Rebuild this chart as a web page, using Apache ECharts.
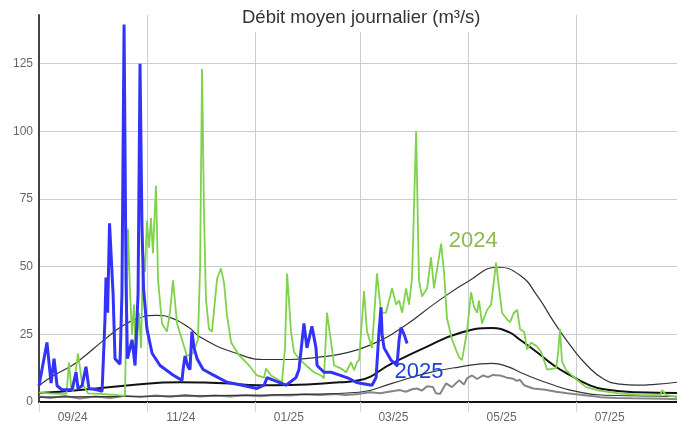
<!DOCTYPE html>
<html>
<head>
<meta charset="utf-8">
<script src="https://cdn.jsdelivr.net/npm/echarts@6/dist/echarts.min.js"></script>
<style>
  html, body { margin: 0; padding: 0; background: #fff; }
  #main { width: 677px; height: 424px; }
</style>
</head>
<body>
<div id="main"></div>
<script>
// jours depuis le 01/09/2024 -> débit (m3/s)
var startDate = new Date(2024, 8, 1);
var DAY = 86400000;

// 2025 (bleu)
var flow2025 = [
  [0, 6], [4.5, 22], [6.8, 7], [8.5, 16], [10.2, 6], [13, 4.5], [18.6, 4.5], [20.9, 11], [22, 5],
  [24.3, 6], [26.5, 13], [28.2, 5], [32.7, 4.5], [35.6, 4], [37.2, 30], [37.8, 46], [38.7, 33],
  [39.8, 66], [41.8, 40], [42.9, 16], [45.7, 14], [46.8, 40], [48, 139.5], [49.1, 45], [49.9, 16],
  [52.5, 23], [54.2, 13.5], [55.9, 40], [57, 125], [58.1, 65], [59, 42], [60.9, 27], [63.8, 18],
  [68.3, 13.5], [75.6, 10], [80.7, 8], [81.3, 12], [82.4, 17], [84.1, 13], [85.2, 12], [86.3, 26],
  [87.5, 20], [89.2, 16], [92.6, 12], [98.2, 10], [106.1, 7.3], [114.6, 6.2], [123, 5], [127, 6.2],
  [128.7, 9], [132.6, 8], [139.4, 6.2], [145, 9], [146.7, 12], [149.5, 29], [151.2, 20], [154, 28],
  [156.3, 20], [156.9, 13.5], [160.8, 11], [164.8, 11], [169.3, 10], [174.9, 8.7], [178.9, 7.3],
  [180.6, 7], [187.9, 6.2], [190.2, 9], [191.9, 26.5], [193, 35], [193.6, 25], [194.7, 20],
  [198.6, 15.5], [202, 13.5], [203.2, 23], [204.3, 27.5], [206, 25], [207.7, 21.6]
];

// 2024 (vert)
var flow2024 = [
  [0, 3.5], [6.2, 3.2], [11.9, 3], [15.5, 3], [16.9, 14.7], [18.2, 5], [19.2, 4], [22, 18], [24.3, 7],
  [27.7, 3.2], [34.4, 3], [42.9, 2.6], [48.5, 2.3], [49.1, 3], [50.2, 64], [51.4, 40], [52.5, 25],
  [53.6, 36], [54.7, 16], [56.4, 33], [57.6, 20], [58.7, 55], [59.8, 48], [60.9, 67], [62.1, 57],
  [63.2, 68], [64.3, 55], [66, 80], [67.2, 45], [69.4, 29], [72.2, 26], [73.9, 33], [75.6, 45],
  [77.9, 29], [80.7, 23], [83.5, 17], [86.9, 18], [89.7, 23], [90.9, 50], [92, 123], [93.1, 70],
  [94.2, 38], [95.9, 27], [97.6, 26], [100.5, 45.6], [102.7, 49.4], [104.4, 44], [106.1, 32],
  [108.4, 22], [112.9, 17.3], [118.5, 13.5], [123, 9.8], [127, 9], [128.1, 12.4], [130.9, 9.8],
  [135.4, 8], [137.1, 7.3], [138.8, 20], [140, 47.5], [142.2, 26], [143.9, 18.5], [146.7, 16],
  [150.7, 13.5], [155.2, 11], [159.1, 9.8], [160.8, 8.7], [162.5, 33], [164.8, 22], [166.5, 13.5],
  [170.4, 12.4], [173.3, 11], [176.1, 14.7], [177.8, 11.8], [179.5, 14.7], [180.6, 15.5], [183.4, 41],
  [185.1, 26], [187.9, 20], [190.7, 47.5], [193, 33], [195.8, 33], [199.2, 42], [201.5, 36],
  [203.2, 37.5], [204.9, 33], [207.1, 42], [208.8, 36], [210.5, 46], [212.8, 100], [214.4, 45],
  [216.1, 39], [219, 42], [221.2, 53.5], [222.9, 42], [226.9, 58.5], [228.6, 47.5], [230.2, 31],
  [233.1, 23], [237, 16.5], [238.7, 15.5], [241.5, 26], [243.8, 40.5], [245.5, 35], [247.2, 33],
  [248.3, 37.5], [250, 29], [252.8, 34], [255.1, 36], [257.9, 51.5], [259.6, 42], [261.3, 33],
  [264.1, 30.5], [265.8, 29.5], [268, 33], [269.8, 34], [271.4, 27], [273.7, 26], [275.4, 19.5],
  [277.7, 22], [281, 20.5], [283.3, 18.5], [286.7, 12], [291.8, 12.5], [292.9, 18], [294, 27],
  [295.1, 15], [297.4, 11.8], [303, 8.5], [308.7, 5.5], [316, 4.2], [327.3, 3.2], [339.2, 2.6],
  [345.9, 2.5], [350.5, 2.5], [351.6, 4.4], [353.9, 2.5], [360, 1.8]
];

// courbes statistiques
var curveHigh = [
  [0, 6], [6.2, 9], [18.6, 13.5], [23, 15.5], [37.8, 23.5], [46.8, 28], [56.4, 31], [66, 32],
  [75, 31], [84.6, 27.5], [90.9, 24], [109.5, 18.4], [128.7, 15.7], [141.6, 15.7], [156.9, 16.5],
  [169.9, 17.7], [186.8, 21], [206, 28], [224.6, 37], [243.2, 45], [258.5, 49.8], [271.4, 46.8],
  [281, 39.4], [290.6, 29.5], [299.7, 21], [309.3, 13.5], [318.8, 8.4], [327.9, 6.6], [337.5, 6.2],
  [347.6, 6.5], [360, 7.3]
];
var curveMid = [
  [0, 3.3], [23, 4.4], [51, 6.2], [79.6, 7.3], [90.9, 7.2], [107.8, 6.8], [123, 6.2], [141.6, 6.3],
  [169.9, 7.3], [180.6, 8], [199.2, 14.3], [218.4, 20.3], [237, 25.4], [255.6, 27.3], [265.2, 25.8],
  [271.4, 23], [281, 18.4], [290.6, 13.5], [299.7, 9.9], [309.3, 6.6], [318.8, 4.7], [337.5, 3.6],
  [360, 3.3]
];
var curveLow = [
  [0, 1.8], [34.4, 2], [90.9, 2.3], [147.3, 2.8], [180.6, 3.6], [199.2, 6.9], [218.4, 10.6],
  [237, 12.9], [255.6, 14.3], [265.2, 12.9], [271.4, 11], [281, 8.4], [290.6, 6.2], [299.7, 4.4],
  [318.8, 2.5], [360, 2.1]
];
var curveMin = [
  [0, 2], [6.2, 1.5], [14.7, 2.2], [23, 1.3], [31.6, 2], [40, 1.5], [48.5, 2.3], [57, 1.8],
  [65.5, 2.4], [74, 1.9], [82.4, 2.6], [91, 2], [99.3, 2.4], [107.8, 2], [116.3, 2.5], [124.7, 2.1],
  [133.2, 2.6], [141.6, 2.4], [150, 2.9], [158.6, 2.6], [167, 3], [172.7, 2.6], [180.6, 3],
  [186.8, 3.6], [192.4, 3.2], [199.2, 4], [203.7, 4.4], [207, 3.8], [210.5, 4.7], [213.3, 5],
  [216, 4.2], [219, 5.8], [222.3, 5.5], [224, 3.2], [226.3, 3], [229.7, 6.9], [233, 5.5], [237, 8],
  [239.8, 6.5], [241.5, 8.7], [244.4, 9.8], [247.2, 8.5], [250.6, 9.8], [253.4, 9.2], [256.2, 10],
  [260.2, 9.8], [264, 9], [267, 8.7], [269.7, 7.8], [271.4, 8.2], [273.7, 6.2], [278.8, 5],
  [285.6, 4.5], [291.8, 3.8], [298, 3.2], [308, 2.5], [316.6, 1.8], [326, 1.5], [335, 1.4],
  [344.8, 1.3], [353.3, 1.2], [360, 1]
];

var tickMonths = [[2024, 8], [2024, 10], [2025, 0], [2025, 2], [2025, 4], [2025, 6]];
var yTicks = [0, 25, 50, 75, 100, 125];

// position (en jours) d'une date
function dayOf(y, m, d) {
  return Math.round((new Date(y, m, d).getTime() - startDate.getTime()) / DAY);
}
function pad(n) { return n < 10 ? '0' + n : '' + n; }

var font = 'Liberation Sans, Arial, sans-serif';
var myChart = echarts.init(document.getElementById('main'));

var option = {
  animation: false,
  title: {
    text: 'Débit moyen journalier (m³/s)',
    left: 234,
    top: 0,
    padding: [8, 8, 5, 8],
    backgroundColor: '#fff',
    textStyle: { fontSize: 18.5, fontWeight: 'normal', color: '#333', fontFamily: font }
  },
  grid: { left: 39, right: 0, top: 15, bottom: 22 },
  xAxis: {
    type: 'value',
    min: 0,
    max: 360,
    axisLine: { lineStyle: { color: '#111', width: 2 } },
    axisTick: {
      length: 10,
      lineStyle: { color: '#ccd6eb' },
      customValues: tickMonths.map(function (m) { return dayOf(m[0], m[1], 1); })
    },
    axisLabel: {
      color: '#666',
      fontSize: 12,
      fontFamily: font,
      margin: 10,
      customValues: tickMonths.map(function (m) { return dayOf(m[0], m[1], 20); }),
      formatter: function (v) {
        var d = new Date(startDate.getTime() + v * DAY);
        return pad(d.getMonth() + 1) + '/' + String(d.getFullYear()).slice(2);
      }
    },
    splitLine: { show: true, lineStyle: { color: '#ccc' } }
  },
  yAxis: {
    type: 'value',
    min: 0,
    max: 143,
    interval: 25,
    axisLine: { show: true, lineStyle: { color: '#444', width: 2 } },
    axisTick: { show: false },
    axisLabel: {
      color: '#666',
      fontSize: 12,
      fontFamily: font,
      margin: 6,
      customValues: yTicks
    },
    splitLine: { lineStyle: { color: '#ccc' }, showMaxLine: false }
  },
  series: [
    {
      name: 'min', type: 'line', data: curveMin, symbol: 'none',
      lineStyle: { color: '#858585', width: 2 }
    },
    {
      name: 'bas', type: 'line', data: curveLow, symbol: 'none', smooth: true,
      lineStyle: { color: '#333', width: 1.2 }
    },
    {
      name: 'moyen', type: 'line', data: curveMid, symbol: 'none', smooth: true,
      lineStyle: { color: '#111', width: 2 }
    },
    {
      name: 'haut', type: 'line', data: curveHigh, symbol: 'none', smooth: true,
      lineStyle: { color: '#333', width: 1.2 }
    },
    {
      name: '2024', type: 'line', data: flow2024, symbol: 'none',
      lineStyle: { color: '#7fd24a', width: 1.8 },
      markPoint: {
        symbolSize: 0,
        label: { show: true, position: 'inside', formatter: '2024', color: '#8dbb4e', fontSize: 22, fontFamily: font },
        data: [{ coord: [245, 59.4] }]
      }
    },
    {
      name: '2025', type: 'line', data: flow2025, symbol: 'none',
      lineStyle: { color: '#3333f8', width: 3 },
      markPoint: {
        symbolSize: 0,
        label: { show: true, position: 'inside', formatter: '2025', color: '#1f3fdc', fontSize: 22, fontFamily: font },
        data: [{ coord: [214.4, 11] }]
      }
    }
  ]
};

myChart.setOption(option);
</script>
</body>
</html>
